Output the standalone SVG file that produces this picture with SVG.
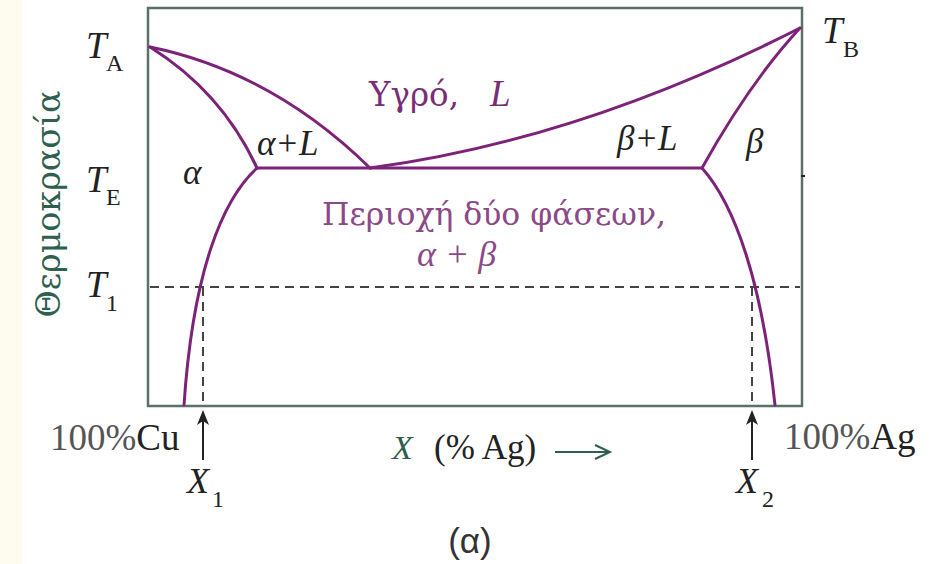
<svg xmlns="http://www.w3.org/2000/svg" width="938" height="564" viewBox="0 0 938 564">
<style>
  .t{font-family:"Liberation Serif","Times New Roman",serif;fill:#222}
  .g{font-family:"DejaVu Serif","Liberation Serif",serif}
  .i{font-style:italic}
  .cur{fill:none;stroke:#7d2279;stroke-width:3;stroke-linecap:round}
  .dash{fill:none;stroke:#444;stroke-width:2;stroke-dasharray:9 6}
  .pur{fill:#7a2d77}
  .pur2{fill:#8b4a87}
  .grn{fill:#2e5f4f}
  .ah{fill:#222}
</style>
<rect width="938" height="564" fill="#ffffff"/>
<rect x="0" y="0" width="22" height="564" fill="#fdfcef"/>

<g id="frame">
  <rect x="148" y="8" width="654" height="398" fill="none" stroke="#5c706a" stroke-width="2.5"/>
  <line x1="801" y1="176" x2="805" y2="176" stroke="#222" stroke-width="2"/>
</g>

<g id="dashed">
  <line class="dash" x1="150" y1="287" x2="800" y2="287"/>
  <line class="dash" x1="203" y1="287" x2="203" y2="405"/>
  <line class="dash" x1="752" y1="287" x2="752" y2="405"/>
</g>

<g id="curves">
  <path class="cur" d="M150,47 Q272,72 370,168"/>
  <path class="cur" d="M150,47 Q222,92 257,168"/>
  <path class="cur" d="M257,168 C222,200 193,272 184,405"/>
  <path class="cur" d="M257,168 L702,168"/>
  <path class="cur" d="M370,168 Q580,140 800,28"/>
  <path class="cur" d="M702,168 Q750,82 800,28"/>
  <path class="cur" d="M702,168 C735,205 762,282 775,405"/>
</g>

<g id="axis-labels">
  <text class="t g grn" font-size="34" transform="translate(60,204) rotate(-90)" text-anchor="middle" textLength="227" lengthAdjust="spacingAndGlyphs">Θερμοκρασία</text>
  <text class="t i" x="86" y="58" font-size="37">T</text>
  <text class="t" x="106" y="71" font-size="24">A</text>
  <text class="t i" x="86" y="192" font-size="37">T</text>
  <text class="t" x="106" y="205" font-size="24">E</text>
  <text class="t i" x="86" y="297" font-size="37">T</text>
  <text class="t" x="106" y="311" font-size="24">1</text>
  <text class="t i" x="822" y="43" font-size="37">T</text>
  <text class="t" x="843" y="57" font-size="24">B</text>
</g>

<g id="regions">
  <text class="t i" x="183" y="184" font-size="35">α</text>
  <text class="t i" x="257" y="155" font-size="35">α+L</text>
  <text class="t g pur" x="369" y="106" font-size="33" textLength="90" lengthAdjust="spacingAndGlyphs">Υγρό,</text>
  <text class="t pur i" x="490" y="106" font-size="37">L</text>
  <text class="t i" x="617" y="150" font-size="35">β+L</text>
  <text class="t i" x="746" y="153" font-size="35">β</text>
  <text class="t g pur2" x="322" y="225" font-size="32" textLength="344" lengthAdjust="spacingAndGlyphs">Περιοχή δύο φάσεων,</text>
  <text class="t pur2 i" x="417" y="266" font-size="36">α + β</text>
</g>

<g id="x-axis">
  <text class="t" x="50" y="450" font-size="37"><tspan fill="#555">100%</tspan><tspan fill="#222">Cu</tspan></text>
  <text class="t" x="784" y="449" font-size="37"><tspan fill="#555">100%</tspan><tspan fill="#222">Ag</tspan></text>
  <line x1="203" y1="460" x2="203" y2="420" stroke="#222" stroke-width="2"/>
  <path class="ah" d="M203,410 L209,425 L203,421 L197,425 Z"/>
  <line x1="752" y1="460" x2="752" y2="420" stroke="#222" stroke-width="2"/>
  <path class="ah" d="M752,410 L758,425 L752,421 L746,425 Z"/>
  <text class="t i" x="187" y="493" font-size="36">X</text>
  <text class="t" x="212" y="507" font-size="24">1</text>
  <text class="t i" x="736" y="493" font-size="36">X</text>
  <text class="t" x="762" y="507" font-size="24">2</text>
  <text class="t i grn" x="392" y="459" font-size="34">X</text>
  <text class="t" x="434" y="459" font-size="35" fill="#333">(% Ag)</text>
  <line x1="555" y1="452" x2="609" y2="452" stroke="#2e5f4f" stroke-width="2"/>
  <path d="M595,445 L610,452 L595,459" fill="none" stroke="#2e5f4f" stroke-width="2"/>
  <text x="470" y="553" font-family="Liberation Sans, Arial, sans-serif" font-size="35" fill="#333" text-anchor="middle">(α)</text>
</g>
</svg>
